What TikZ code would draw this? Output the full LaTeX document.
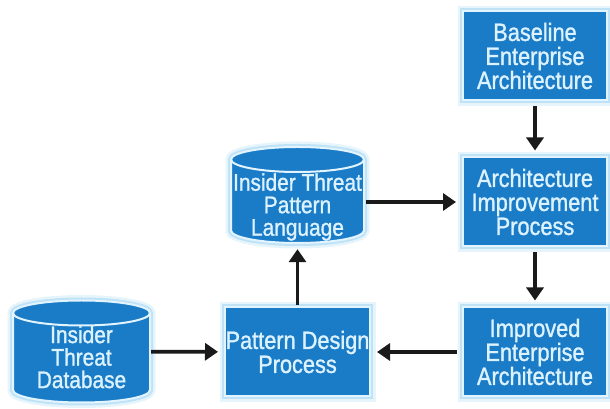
\documentclass[tikz,border=0pt]{standalone}
\usepackage{fontspec}
\setmainfont{Liberation Sans}[FakeStretch=0.87,FakeBold=1.2]
\usetikzlibrary{arrows.meta,calc}
\definecolor{boxblue}{HTML}{1A7CC6}
\definecolor{edgec}{HTML}{E2F4FF}
\definecolor{glowc}{HTML}{8FCDF0}
\definecolor{txtc}{HTML}{DDF2FF}
\definecolor{arrc}{HTML}{1A1A1A}
\tikzset{
  glow/.style={preaction={draw=glowc,line width=11pt,opacity=0.22},
               preaction={draw=glowc,line width=6pt,opacity=0.45}},
  shell/.style={glow,fill=boxblue,draw=edgec,line width=2pt},
  txt/.style={align=center,text=txtc,font=\fontsize{25}{24}\selectfont},
  box/.style={shell,txt,minimum width=144pt,minimum height=89pt,inner sep=0pt},
  cylarea/.style={draw=none,inner sep=0pt},
  arr/.style={-{Triangle[length=13pt,width=17pt]},line width=3.8pt,draw=arrc,
              shorten >=6pt,shorten <=5pt},
}
% cx, cy, w, h
\newcommand\mycyl[4]{%
  \path[shell] ({#1-#3/2},{#2+#4/2-12.5}) -- ({#1-#3/2},{#2-#4/2+12.5})
    arc[start angle=180,end angle=360,x radius={#3/2},y radius=12.5]
    -- ({#1+#3/2},{#2+#4/2-12.5})
    arc[start angle=0,end angle=180,x radius={#3/2},y radius=12.5] -- cycle;
  \draw[edgec,line width=2pt] ({#1-#3/2},{#2+#4/2-12.5})
    arc[start angle=180,end angle=360,x radius={#3/2},y radius=12.5];
}
\begin{document}
\begin{tikzpicture}[x=1pt,y=1pt]
\useasboundingbox (0,0) rectangle (610,409);
% boxes
\node[box] (base) at (535,353) {Baseline\\Enterprise\\Architecture};
\node[box] (aip) at (535,207) {Architecture\\Improvement\\Process};
\node[box] (imp) at (535,57) {Improved\\Enterprise\\Architecture};
\node[box,minimum width=145pt] (pdp) at (297.5,57) {Pattern Design\\Process};
% cylinders
\mycyl{297.5}{214}{133}{96}
\node[cylarea,minimum width=133pt,minimum height=96pt] (lang) at (297.5,214) {};
\node[txt,font=\fontsize{24}{22.5}\selectfont] (langtxt) at (297.5,202) {Insider Threat\\Pattern\\Language};
\mycyl{81.5}{57.5}{137}{102}
\node[cylarea,minimum width=137pt,minimum height=102pt] (db) at (81.5,57.5) {};
\node[txt,font=\fontsize{24}{22.5}\selectfont] (dbtxt) at (81.5,52) {Insider\\Threat\\Database};
% connectors
\draw[arr] (base) -- (aip);
\draw[arr] (aip) -- (imp);
\draw[arr,shorten <=2pt] (lang.east |- aip.west) -- (aip.west);
\draw[arr,shorten <=1pt] (pdp.north) -- (pdp.north |- lang.south);
\draw[arr] (imp) -- (pdp);
\draw[arr,shorten <=1pt] (db) -- (pdp);
\end{tikzpicture}
\end{document}
